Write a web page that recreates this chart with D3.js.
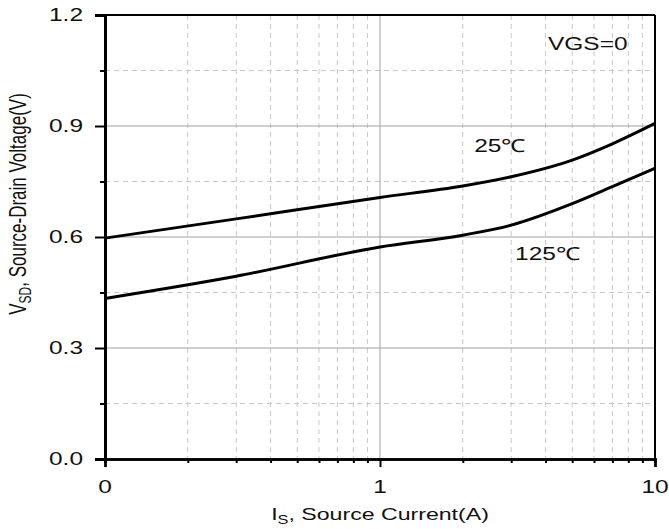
<!DOCTYPE html>
<html>
<head>
<meta charset="utf-8">
<script src="https://cdn.jsdelivr.net/npm/d3@7"></script>
<style>
  body { margin: 0; background: #fff; }
  text { font-family: "Liberation Sans", Arial, sans-serif; fill: #111; }
  .grid-major line { stroke: #a0a0a0; stroke-width: 1; }
  .grid-minor line { stroke: #c8c8c8; stroke-width: 1; stroke-dasharray: 5,4; }
  .curve { fill: none; stroke: #000; stroke-width: 3; }
</style>
</head>
<body>
<div id="canvas"></div>
<script>
var m = {t: 15, r: 14, b: 70, l: 105},
    W = 669, H = 529,
    w = W - m.l - m.r,
    h = H - m.t - m.b,
    sx = 1.36; // text in the picture is stretched sideways

// Data
var current = [0.1, 0.3, 1, 2, 3, 5, 7, 10];
var vsd25  = [0.597, 0.649, 0.707, 0.738, 0.763, 0.808, 0.852, 0.907];
var vsd125 = [0.434, 0.494, 0.573, 0.605, 0.632, 0.690, 0.736, 0.786];
var xTicks = [0.1, 1, 10];
var xTickLabels = ['0', '1', '10'];
var yTicks = [0, 0.3, 0.6, 0.9, 1.2];
var yMinor = [0.15, 0.45, 0.75, 1.05];
var seriesLabels = ['25\u2103', '125\u2103'];

var svg = d3.select('#canvas')
  .append('svg')
  .attr('width', W)
  .attr('height', H);

var plot = svg.append('g')
  .attr('transform', 'translate(' + m.l + ',' + m.t + ')');

// Scales
var x = d3.scaleLog().domain([0.1, 10]).range([0, w]);
var y = d3.scaleLinear().domain([0, 1.2]).range([h, 0]);

var xMinor = [];
[0.1, 1].forEach(function(d) {
  for (var k = 2; k <= 9; k++) xMinor.push(d * k);
});

// Grid
plot.append('g').attr('class', 'grid-minor')
  .selectAll('line').data(xMinor).enter().append('line')
  .attr('x1', function(d) { return x(d); })
  .attr('x2', function(d) { return x(d); })
  .attr('y1', 0).attr('y2', h);

plot.append('g').attr('class', 'grid-minor')
  .selectAll('line').data(yMinor).enter().append('line')
  .attr('x1', 0).attr('x2', w)
  .attr('y1', function(d) { return y(d); })
  .attr('y2', function(d) { return y(d); });

plot.append('g').attr('class', 'grid-major')
  .selectAll('line').data([1]).enter().append('line')
  .attr('x1', function(d) { return x(d); })
  .attr('x2', function(d) { return x(d); })
  .attr('y1', 0).attr('y2', h);

plot.append('g').attr('class', 'grid-major')
  .selectAll('line').data([0.3, 0.6, 0.9]).enter().append('line')
  .attr('x1', 0).attr('x2', w)
  .attr('y1', function(d) { return y(d); })
  .attr('y2', function(d) { return y(d); });

// Curves
var line = d3.line()
  .x(function(d) { return x(d[0]); })
  .y(function(d) { return y(d[1]); })
  .curve(d3.curveMonotoneX);

[vsd25, vsd125].forEach(function(v) {
  plot.append('path')
    .attr('class', 'curve')
    .attr('d', line(d3.zip(current, v)));
});

// Frame
plot.append('line').attr('x1', 0).attr('x2', w).attr('y1', 0).attr('y2', 0)
  .attr('stroke', '#000').attr('stroke-width', 2);
plot.append('line').attr('x1', w).attr('x2', w).attr('y1', 0).attr('y2', h)
  .attr('stroke', '#000').attr('stroke-width', 2);

// Axes
var axisX = d3.axisBottom(x).tickValues(xTicks).tickSize(8).tickFormat('');
var axisXMinor = d3.axisBottom(x).tickValues(xMinor).tickSize(4).tickFormat('');
var axisY = d3.axisLeft(y).tickValues(yTicks).tickSize(10).tickFormat('');
var axisYMinor = d3.axisLeft(y).tickValues(yMinor).tickSize(5).tickFormat('');

[axisXMinor, axisX].forEach(function(a) {
  var g = plot.append('g').attr('transform', 'translate(0,' + h + ')').call(a);
  g.select('.domain').attr('stroke', '#000').attr('stroke-width', 2.5);
  g.selectAll('.tick line').attr('stroke', '#000').attr('stroke-width', 2);
});
[axisYMinor, axisY].forEach(function(a) {
  var g = plot.append('g').call(a);
  g.select('.domain').attr('stroke', '#000').attr('stroke-width', 3);
  g.selectAll('.tick line').attr('stroke', '#000').attr('stroke-width', 2);
});

// Tick labels
function stretched(g, px, py, str, anchor, size) {
  return g.append('text')
    .attr('transform', 'translate(' + px + ',' + py + ') scale(' + sx + ',1)')
    .attr('text-anchor', anchor)
    .style('font-size', size + 'px')
    .text(str);
}

xTicks.forEach(function(d, i) {
  stretched(plot, x(d), h + 34, xTickLabels[i], 'middle', 18);
});
yTicks.forEach(function(d) {
  stretched(plot, -22, y(d) + 6, d3.format('.1f')(d), 'end', 18);
});

// Axis titles
var xt = stretched(plot, w / 2, h + 61, '', 'middle', 17);
xt.append('tspan').text('I');
xt.append('tspan').attr('dy', 4).style('font-size', '12px').text('S');
xt.append('tspan').attr('dy', -4).text(', Source Current(A)');

var yt = plot.append('text')
  .attr('transform', 'translate(' + (26 - m.l) + ',' + (h / 2 - 33) + ') scale(' + sx + ',1) rotate(-90)')
  .attr('text-anchor', 'middle')
  .style('font-size', '17px');
yt.append('tspan').text('V');
yt.append('tspan').attr('dy', 4).style('font-size', '12px').text('SD');
yt.append('tspan').attr('dy', -4).text(', Source-Drain Voltage(V)');

// Annotations
stretched(plot, 443, 35, 'VGS=0', 'start', 18);
stretched(plot, x(2.2), y(0.83), seriesLabels[0], 'start', 18);
stretched(plot, x(3.1), y(0.538), seriesLabels[1], 'start', 18);
</script>
</body>
</html>
